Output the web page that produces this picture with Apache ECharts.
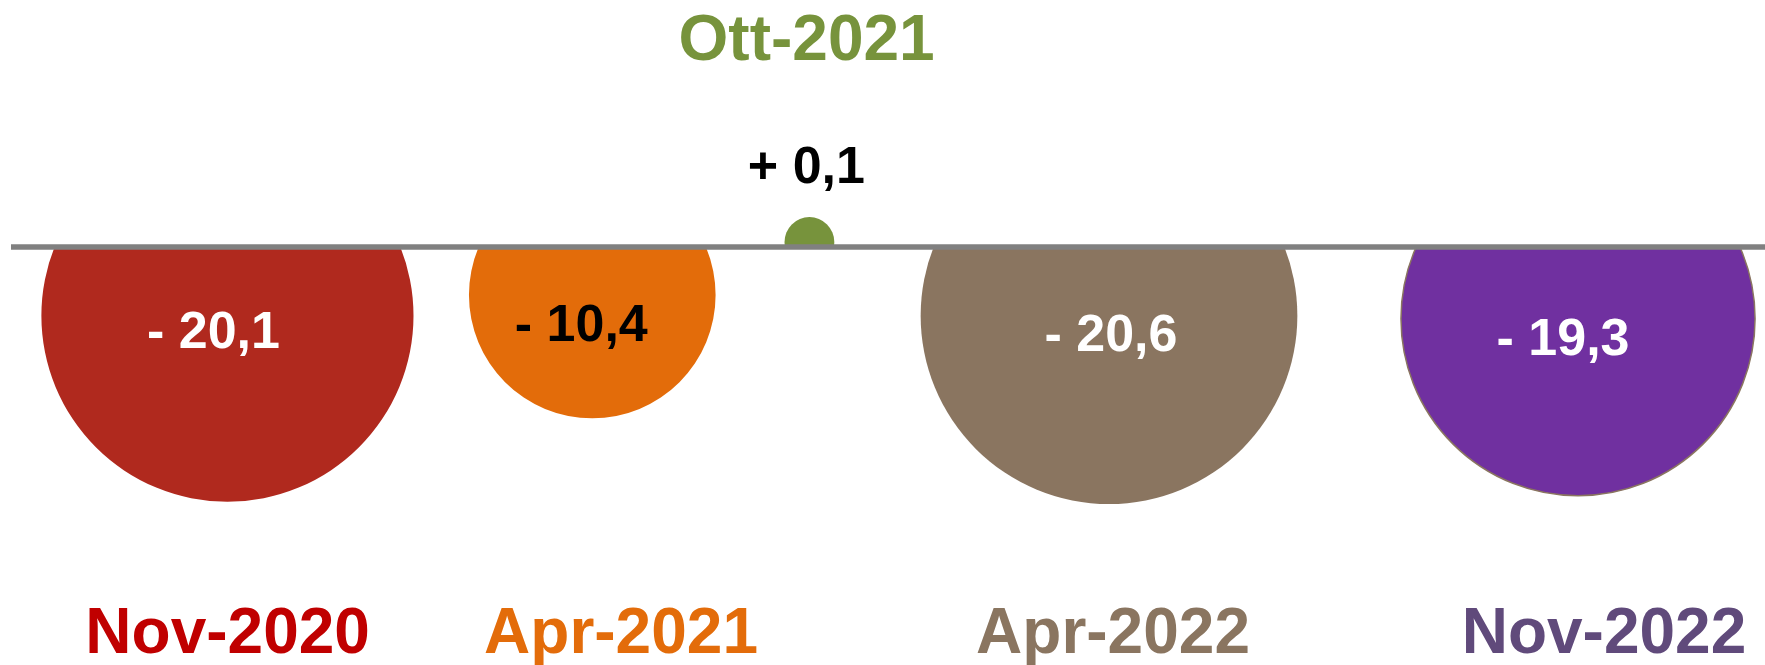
<!DOCTYPE html>
<html>
<head>
<meta charset="utf-8">
<title>Variazioni</title>
<script src="https://cdn.jsdelivr.net/npm/echarts@6/dist/echarts.min.js"></script>
<style>
    html, body { margin: 0; padding: 0; background: #fff; }
    #chart { width: 1765px; height: 665px; }
</style>
</head>
<body>
<div id="chart"></div>
<script>
    // dati
    const periods = ['Nov-2020', 'Apr-2021', 'Ott-2021', 'Apr-2022', 'Nov-2022'];
    const changes = [-20.1, -10.4, 0.1, -20.6, -19.3];
    const bubbleX = [12.34, 33.14, 45.52, 62.6, 89.34];
    const bubbleY = [-6.87, -4.8, 0.5, -6.87, -7.17];
    const bubbleSize = [20.1, 8.83, 0.36, 20.6, 18.2];
    const labelX = [12.35, 34.78, 45.36, 62.83, 90.82];

    // stile
    const FONT = '"Liberation Sans", Arial, sans-serif';
    const fillColors = ['#B0291E', '#E36C0A', '#77933C', '#8A7560', '#7030A0'];
    const strokeColors = [null, null, null, null, '#8A7560'];
    const valueColors = ['#fff', '#000', '#000', '#fff', '#fff'];
    const periodColors = ['#C00000', '#E36C0A', '#77933C', '#8A7560', '#604A7B'];
    const valueShift = [[-14, 18], [-11, 32], [-3, -73], [2, 21], [-15, 22]];

    const bubbleRadius = size => 41.5 * Math.sqrt(size);

    function fmt(v) {
        return (v < 0 ? '- ' : '+ ') + Math.abs(v).toFixed(1).replace('.', ',');
    }

    const idx = periods.map((p, i) => i);
    const upIdx = idx.filter(i => changes[i] >= 0);
    const downIdx = idx.filter(i => changes[i] < 0);

    function drawBubble(params, api) {
        const i = api.value(3);
        const c = api.coord([api.value(0), api.value(1)]);
        const r = bubbleRadius(api.value(2));
        const sh = valueShift[i];
        return {
            type: 'group',
            children: [{
                type: 'circle',
                shape: {cx: c[0], cy: c[1], r: r},
                style: {
                    fill: fillColors[i],
                    stroke: strokeColors[i] || 'none',
                    lineWidth: strokeColors[i] ? 1.5 : 0
                }
            }, {
                type: 'text',
                x: c[0] + sh[0],
                y: c[1] + sh[1],
                style: {
                    text: fmt(changes[i]),
                    fill: valueColors[i],
                    font: 'bold 52px ' + FONT,
                    align: 'center',
                    verticalAlign: 'middle'
                }
            }]
        };
    }

    // etichette dei periodi: sopra il grafico per le variazioni positive, sotto per le negative
    function drawPeriod(params, api) {
        const i = api.value(1);
        const cs = params.coordSys;
        const x = api.coord([api.value(0), 0])[0];
        const y = changes[i] >= 0 ? cs.y + 42 : cs.y + cs.height - 30;
        return {
            type: 'text',
            x: x,
            y: y,
            style: {
                text: periods[i],
                fill: periodColors[i],
                font: 'bold 64px ' + FONT,
                align: 'center',
                verticalAlign: 'middle'
            }
        };
    }

    const chart = echarts.init(document.getElementById('chart'));
    chart.setOption({
        animation: false,
        backgroundColor: '#fff',
        grid: [
            {left: 11, right: 0, top: 0, height: 247},
            {left: 11, right: 0, top: 247, bottom: 0}
        ],
        xAxis: [{
            gridIndex: 0, type: 'value', min: 0, max: 100, show: false
        }, {
            gridIndex: 1, type: 'value', min: 0, max: 100, position: 'top', z: 5,
            axisLine: {show: true, lineStyle: {color: '#808080', width: 5.5, cap: 'butt'}},
            axisTick: {show: false}, axisLabel: {show: false}, splitLine: {show: false}
        }],
        yAxis: [
            {gridIndex: 0, type: 'value', min: 0, max: 24.7, show: false},
            {gridIndex: 1, type: 'value', min: -41.8, max: 0, show: false}
        ],
        series: [{
            type: 'custom',
            xAxisIndex: 0, yAxisIndex: 0,
            clip: true, z: 1,
            renderItem: drawBubble,
            data: upIdx.map(i => [bubbleX[i], bubbleY[i], bubbleSize[i], i])
        }, {
            type: 'custom',
            xAxisIndex: 1, yAxisIndex: 1,
            clip: true, z: 1,
            renderItem: drawBubble,
            data: downIdx.map(i => [bubbleX[i], bubbleY[i], bubbleSize[i], i])
        }, {
            type: 'custom',
            xAxisIndex: 0, yAxisIndex: 0,
            renderItem: drawPeriod,
            data: upIdx.map(i => [labelX[i], i])
        }, {
            type: 'custom',
            xAxisIndex: 1, yAxisIndex: 1,
            renderItem: drawPeriod,
            data: downIdx.map(i => [labelX[i], i])
        }]
    });
</script>
</body>
</html>
